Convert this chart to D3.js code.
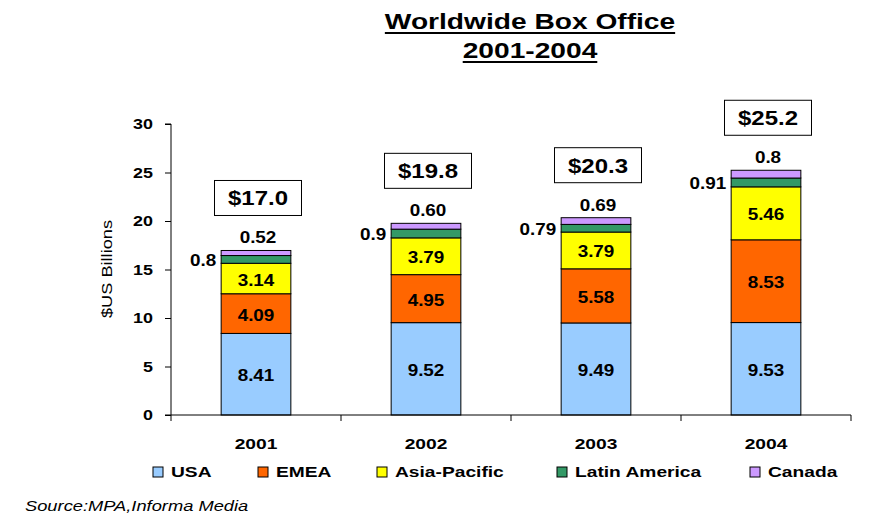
<!DOCTYPE html>
<html>
<head>
<meta charset="utf-8">
<script src="https://cdn.jsdelivr.net/npm/d3@7"></script>
<style>
  html, body { margin: 0; padding: 0; background: #fff; }
  svg { display: block; font-family: "Liberation Sans", Arial, sans-serif; }
</style>
</head>
<body>
<svg id="chart" width="895" height="526"></svg>
<script>
// ---- Data ----
const years = ["2001", "2002", "2003", "2004"];
const seriesNames = ["USA", "EMEA", "Asia-Pacific", "Latin America", "Canada"];
const usa = [8.41, 9.52, 9.49, 9.53];
const emea = [4.09, 4.95, 5.58, 8.53];
const asiaPacific = [3.14, 3.79, 3.79, 5.46];
const latinAmerica = [0.8, 0.9, 0.79, 0.91];
const canada = [0.52, 0.60, 0.69, 0.8];
const usaLabels = ["8.41", "9.52", "9.49", "9.53"];
const emeaLabels = ["4.09", "4.95", "5.58", "8.53"];
const apLabels = ["3.14", "3.79", "3.79", "5.46"];
const latamLabels = ["0.8", "0.9", "0.79", "0.91"];
const canadaLabels = ["0.52", "0.60", "0.69", "0.8"];
const totalLabels = ["$17.0", "$19.8", "$20.3", "$25.2"];
const yTicks = [0, 5, 10, 15, 20, 25, 30];

// ---- Style / layout ----
const colors = ["#99CCFF", "#FF6600", "#FFFF00", "#339966", "#CC99FF"];
const legendX = [153, 258, 377, 557, 750];

const svg = d3.select("#chart");
const plotLeft = 171, plotRight = 851, plotTop = 124, plotBottom = 415;

const x = d3.scaleBand().domain(years).range([plotLeft, plotRight]).padding(0);
const barW = x.bandwidth() * 0.41;
const y = d3.scaleLinear().domain([0, 30]).range([plotBottom, plotTop]);

const seriesValues = [usa, emea, asiaPacific, latinAmerica, canada];
const rows = years.map((yr, i) => {
  const o = { year: yr };
  seriesNames.forEach((s, k) => o[s] = seriesValues[k][i]);
  return o;
});
const stack = d3.stack().keys(seriesNames)(rows);

// helper for horizontally stretched text
function stext(g, x0, y0, str, opts) {
  const sx = opts.sx || 1.2;
  const rot = opts.rot ? ` rotate(${opts.rot})` : "";
  return g.append("text")
    .attr("transform", `translate(${x0},${y0})${rot} scale(${sx},1)`)
    .attr("text-anchor", opts.anchor || "middle")
    .attr("font-size", opts.size || 16)
    .attr("font-weight", opts.weight || "bold")
    .attr("font-style", opts.style || "normal")
    .attr("fill", "#000")
    .text(str);
}

// ---- Title ----
const titleLines = ["Worldwide Box Office", "2001-2004"];
const titleBase = [29, 58];
titleLines.forEach((t, i) => {
  const sx = 1.28;
  const tx = stext(svg, 530, titleBase[i], t, { size: 22, sx: sx });
  const w = tx.node().getComputedTextLength() * sx;
  svg.append("rect").attr("x", 530 - w / 2).attr("y", titleBase[i] + 3)
    .attr("width", w).attr("height", 2).attr("fill", "#000");
});

// ---- Bars ----
const barG = svg.append("g");
stack.forEach((layer, k) => {
  barG.selectAll(null).data(layer).enter().append("rect")
    .attr("x", d => x(d.data.year) + (x.bandwidth() - barW) / 2)
    .attr("y", d => y(d[1]))
    .attr("width", barW)
    .attr("height", d => y(d[0]) - y(d[1]))
    .attr("fill", colors[k])
    .attr("stroke", "#000")
    .attr("stroke-width", 1);
});

// ---- Axes ----
const yAxis = d3.axisLeft(y).tickValues(yTicks).tickSize(6).tickFormat("");
const yg = svg.append("g").attr("transform", `translate(${plotLeft},0)`).call(yAxis);
yg.select(".domain").attr("stroke", "#000").attr("d", `M-6,${plotBottom}H0V${plotTop}H-6`);
yg.selectAll(".tick line").attr("stroke", "#000");
yTicks.forEach(v => {
  stext(svg, 153, y(v) + 5, String(v), { size: 14, sx: 1.28, anchor: "end" });
});

// x axis line with boundary ticks
const xg = svg.append("g");
xg.append("line").attr("x1", plotLeft).attr("x2", plotRight).attr("y1", plotBottom).attr("y2", plotBottom).attr("stroke", "#000");
const bounds = years.map(yr => x(yr)).concat([x(years[years.length - 1]) + x.bandwidth()]);
xg.selectAll(null).data(bounds).enter().append("line")
  .attr("x1", d => d).attr("x2", d => d)
  .attr("y1", plotBottom).attr("y2", plotBottom + 6).attr("stroke", "#000");
years.forEach(yr => {
  stext(svg, x(yr) + x.bandwidth() / 2, 449, yr, { size: 15, sx: 1.28 });
});

// y-axis title
stext(svg, 112, 269, "$US Billions", { size: 14, sx: 1.3, rot: -90, weight: "normal" });

// ---- Value labels ----
const inLabels = [usaLabels, emeaLabels, apLabels];
inLabels.forEach((labs, k) => {
  stack[k].forEach((d, i) => {
    const mid = (y(d[0]) + y(d[1])) / 2;
    stext(svg, x(years[i]) + x.bandwidth() / 2, mid + 7, labs[i], { size: 16, sx: 1.18 });
  });
});
// Latin America labels (left of bar)
stack[3].forEach((d, i) => {
  const mid = (y(d[0]) + y(d[1])) / 2;
  stext(svg, x(years[i]) + (x.bandwidth() - barW) / 2 - 5, mid + 6.5, latamLabels[i], { size: 16, sx: 1.18, anchor: "end" });
});
// Canada labels (above bar)
stack[4].forEach((d, i) => {
  stext(svg, x(years[i]) + x.bandwidth() / 2 + 2, y(d[1]) - 7, canadaLabels[i], { size: 16, sx: 1.18 });
});
// Total boxes
stack[4].forEach((d, i) => {
  const cx = x(years[i]) + x.bandwidth() / 2 + 2;
  const bBottom = y(d[1]) - 35;
  svg.append("rect").attr("x", cx - 43.5).attr("y", bBottom - 35)
    .attr("width", 87).attr("height", 35)
    .attr("fill", "#fff").attr("stroke", "#000").attr("stroke-width", 1);
  stext(svg, cx, bBottom - 10, totalLabels[i], { size: 20, sx: 1.2 });
});

// ---- Legend ----
seriesNames.forEach((s, k) => {
  svg.append("rect").attr("x", legendX[k]).attr("y", 467)
    .attr("width", 10).attr("height", 10)
    .attr("fill", colors[k]).attr("stroke", "#000").attr("stroke-width", 1);
  stext(svg, legendX[k] + 18, 477, s, { size: 15, sx: 1.28, anchor: "start" });
});

// ---- Source ----
stext(svg, 25, 511, "Source:MPA,Informa Media", { size: 15, sx: 1.22, anchor: "start", weight: "normal", style: "italic" });
</script>
</body>
</html>
